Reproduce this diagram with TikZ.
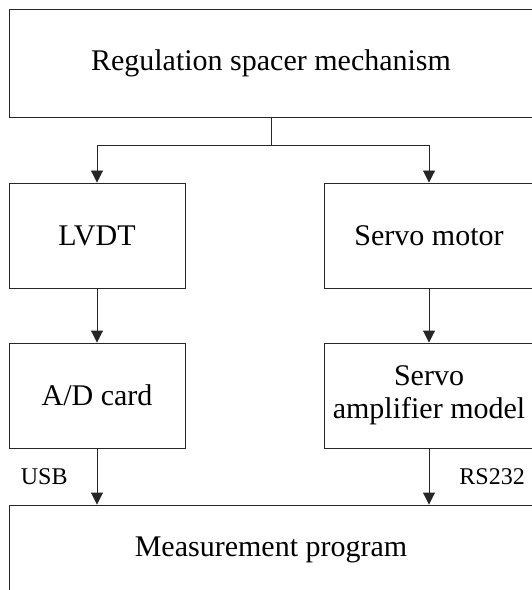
\documentclass[tikz,border=0pt]{standalone}
\usepackage{fontspec}
\setmainfont{Liberation Serif}
\usetikzlibrary{arrows.meta}
\begin{document}
\begin{tikzpicture}[x=1bp,y=-1bp,
    block/.style={draw=black!85,line width=0.9bp,rectangle,inner sep=0pt,align=center,
      font=\fontsize{30bp}{33bp}\selectfont},
    flow/.style={draw=black!85,line width=0.9bp,-{Triangle[width=12bp,length=12bp]}},
    tag/.style={font=\fontsize{24bp}{26bp}\selectfont,inner sep=0pt}]
    \useasboundingbox (0,0) rectangle (532,590);
    \clip (0,0) rectangle (532,590);
    \node[block,minimum width=524bp,minimum height=108bp] (spacer) at (271,63) {Regulation spacer mechanism};
    \node[block,minimum width=176bp,minimum height=105bp] (lvdt) at (97,235.5) {LVDT};
    \node[block,minimum width=210bp,minimum height=105bp] (motor) at (429,235.5) {Servo motor};
    \node[block,minimum width=176bp,minimum height=105bp] (adcard) at (97,395.5) {A/D card};
    \node[block,minimum width=210bp,minimum height=105bp] (amp) at (429,395.5) {Servo\\amplifier model};
    \node[block,minimum width=524bp,minimum height=90bp] (program) at (271,550) {Measurement program};
    \draw[flow] (spacer.south) -- ++(0,28) coordinate (split) -| (lvdt.north);
    \draw[flow] (split) -| (motor.north);
    \draw[flow] (lvdt) -- (adcard);
    \draw[flow] (motor) -- (amp);
    \draw[flow] (adcard.south) -- (adcard.south |- program.north)
      node[tag,midway,left=29bp] (usb) {USB};
    \draw[flow] (amp.south) -- (amp.south |- program.north)
      node[tag,midway,right=30bp] (rs) {RS232};
\end{tikzpicture}
\end{document}
